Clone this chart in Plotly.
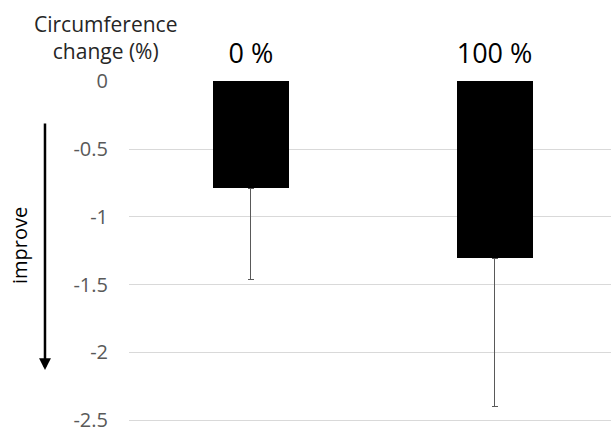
import plotly.graph_objects as go

categories = ["0 %", "100 %"]
change_values = [-0.79, -1.305]
error_down = [0.67, 1.095]
y_tick_values = [0, -0.5, -1, -1.5, -2, -2.5]
y_tick_labels = ["0", "-0.5", "-1", "-1.5", "-2", "-2.5"]

FONT = "Open Sans"

fig = go.Figure()
fig.add_trace(go.Bar(
    x=categories,
    y=change_values,
    width=0.312,
    marker=dict(color="#000000", line=dict(width=0)),
    error_y=dict(type="data", symmetric=False, array=[0, 0], arrayminus=error_down,
                 color="#595959", thickness=1, width=3),
    showlegend=False,
))

fig.update_layout(
    width=611, height=429,
    margin=dict(l=129, r=0, t=81, b=6, autoexpand=False),
    paper_bgcolor="white", plot_bgcolor="white",
    font=dict(family=FONT),
    bargap=0,
    xaxis=dict(type="category", side="top", range=[-0.5, 1.478],
               showgrid=False, showline=False, zeroline=False, ticks="",
               ticklabelstandoff=12, automargin=False,
               tickfont=dict(size=27, color="#000000", family=FONT)),
    yaxis=dict(range=[-2.52, 0.002], tickvals=y_tick_values, ticktext=y_tick_labels,
               showgrid=True, gridcolor="#d9d9d9", gridwidth=1, zeroline=False,
               showline=False, ticks="", ticklabelstandoff=20, automargin=False,
               ticklabeloverflow="allow",
               tickfont=dict(size=20, color="#595959", family=FONT)),
    annotations=[
        dict(text="Circumference<br>change (%)", xref="paper", yref="paper",
             x=-0.048, y=1.126, xanchor="center", yanchor="middle", showarrow=False,
             font=dict(size=21, color="#262626", family=FONT)),
        dict(text="improve", xref="paper", yref="y", x=-0.226, y=-1.214,
             textangle=-90, xanchor="center", yanchor="middle", showarrow=False,
             font=dict(size=20, color="#000000", family=FONT)),
        dict(text="", xref="paper", yref="y", x=-0.1743, y=-2.13,
             ax=0, ay=-0.3, axref="pixel", ayref="y", showarrow=True,
             arrowhead=2, arrowsize=0.95, arrowwidth=2.5, arrowcolor="#000000"),
    ],
)

fig.write_html("out.html")
